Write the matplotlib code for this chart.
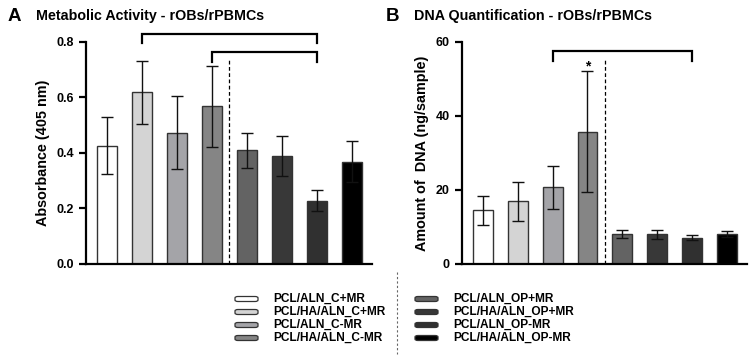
import matplotlib.pyplot as plt
import numpy as np
from matplotlib.patches import FancyBboxPatch

plt.rcParams['font.family'] = ['Liberation Sans', 'DejaVu Sans']
plt.rcParams['font.weight'] = 'bold'

groups = ['PCL/ALN_C+MR', 'PCL/HA/ALN_C+MR', 'PCL/ALN_C-MR', 'PCL/HA/ALN_C-MR',
          'PCL/ALN_OP+MR', 'PCL/HA/ALN_OP+MR', 'PCL/ALN_OP-MR', 'PCL/HA/ALN_OP-MR']
colors = ['#ffffff', '#d4d4d4', '#a4a4a8', '#858585',
          '#636363', '#383838', '#303030', '#000000']

# metabolic activity (absorbance 405 nm)
abs_mean = [0.426, 0.619, 0.473, 0.568, 0.41, 0.389, 0.228, 0.369]
abs_err = [0.102, 0.114, 0.131, 0.146, 0.063, 0.073, 0.038, 0.075]

# DNA quantification (ng/sample)
dna_mean = [14.5, 16.9, 20.7, 35.8, 8.2, 8.0, 7.1, 8.1]
dna_err = [4.0, 5.3, 5.9, 16.3, 1.05, 1.25, 0.7, 0.8]

x = np.arange(len(groups))
fig = plt.figure(figsize=(7.52, 3.58), dpi=100)

axA = fig.add_axes([0.1144, 0.2626, 0.3803, 0.6201])
axB = fig.add_axes([0.614, 0.2626, 0.380, 0.6201])


def draw(ax, means, errs, ymax, yticks, ylabel):
    ax.bar(x, means, width=0.57, color=colors, edgecolor='#333333', linewidth=1.0, zorder=2)
    ax.errorbar(x, means, yerr=errs, fmt='none', ecolor='#111111', elinewidth=1.0,
                capsize=4, capthick=1.0, zorder=3)
    ax.set_xlim(-0.6, 7.58)
    ax.set_ylim(0, ymax)
    ax.set_yticks(yticks)
    ax.set_xticks([])
    for s in ['top', 'right']:
        ax.spines[s].set_visible(False)
    for s in ['left', 'bottom']:
        ax.spines[s].set_linewidth(1.6)
    ax.tick_params(axis='y', direction='out', length=5, width=1.6, labelsize=9)
    for lab in ax.get_yticklabels():
        lab.set_fontweight('bold')
    ax.set_ylabel(ylabel, fontsize=10.4, fontweight='bold', labelpad=5)
    ax.axvline(3.5, ymin=0, ymax=0.92, color='black',
               linestyle=(0, (3, 2)), linewidth=0.9, zorder=1)


def bracket(ax, x0, x1, ytop, ybot):
    ax.plot([x0, x0, x1, x1], [ybot, ytop, ytop, ybot], color='black',
            linewidth=1.6, clip_on=False, solid_joinstyle='miter')


draw(axA, abs_mean, abs_err, 0.8, [0.0, 0.2, 0.4, 0.6, 0.8], 'Absorbance (405 nm)')
axA.set_yticklabels(['0.0', '0.2', '0.4', '0.6', '0.8'], fontweight='bold')
bracket(axA, 1, 6, 0.83, 0.795)
bracket(axA, 3, 6, 0.764, 0.728)

draw(axB, dna_mean, dna_err, 60, [0, 20, 40, 60], 'Amount of  DNA (ng/sample)')
bracket(axB, 2, 6, 57.5, 54.8)
axB.text(3, 53.3, '*', ha='center', va='center', fontsize=10, fontweight='bold')

fig.text(0.010, 0.955, 'A', fontsize=13.5, fontweight='bold', va='center')
fig.text(0.048, 0.955, 'Metabolic Activity - rOBs/rPBMCs', fontsize=10.3,
         fontweight='bold', va='center')
fig.text(0.513, 0.955, 'B', fontsize=13.5, fontweight='bold', va='center')
fig.text(0.551, 0.955, 'DNA Quantification - rOBs/rPBMCs', fontsize=10.3,
         fontweight='bold', va='center')

# legend drawn in figure pixels
W, H = 752, 358
rows_y = [299, 312, 325, 338]
for i in range(4):
    for col, (px0, tx) in enumerate([(235, 273), (415, 453)]):
        k = i + 4 * col
        y = rows_y[i]
        fig.patches.append(FancyBboxPatch((px0 / W, 1 - (y + 2.5) / H), 23 / W, 5 / H,
                                          boxstyle='round,pad=0,rounding_size=0.004',
                                          transform=fig.transFigure, facecolor=colors[k],
                                          edgecolor='#333333', linewidth=0.9))
        fig.text(tx / W, 1 - y / H, groups[k], fontsize=8.6, fontweight='bold',
                 va='center', ha='left')
fig.add_artist(plt.Line2D([397 / W, 397 / W], [1 - 272 / H, 1 - 354 / H],
                          transform=fig.transFigure, color='#666666',
                          linestyle=(0, (2, 2)), linewidth=0.8))

fig.savefig('out.png', dpi=100)
